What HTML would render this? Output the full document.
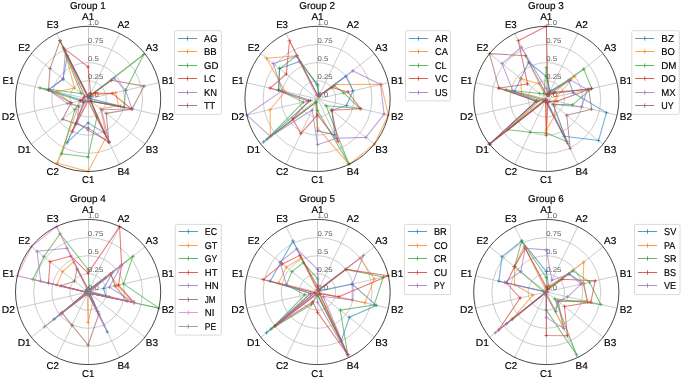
<!DOCTYPE html><html><head><meta charset="utf-8"><style>html,body{margin:0;padding:0;background:#fff}svg{display:block;will-change:transform}text.k{stroke:#000;stroke-width:0.16;paint-order:stroke}</style></head><body>
<svg width="685" height="380" viewBox="0 0 685 380" font-family="Liberation Sans, sans-serif" text-rendering="geometricPrecision">
<rect width="685" height="380" fill="#fff"/>
<g>
<circle cx="88.1" cy="98.9" r="18.15" stroke="#b0b0b0" stroke-width="0.65" fill="none"/>
<circle cx="88.1" cy="98.9" r="36.3" stroke="#b0b0b0" stroke-width="0.65" fill="none"/>
<circle cx="88.1" cy="98.9" r="54.45" stroke="#b0b0b0" stroke-width="0.65" fill="none"/>
<path d="M88.5 98.9L88.5 26.3M88.1 98.9L119.6 33.49M88.1 98.9L144.86 53.63M88.1 98.9L158.88 82.74M88.1 98.9L158.88 115.06M88.1 98.9L144.86 144.17M88.1 98.9L119.6 164.31M88.5 98.9L88.5 171.5M88.1 98.9L56.6 164.31M88.1 98.9L31.34 144.17M88.1 98.9L17.32 115.06M88.1 98.9L17.32 82.74M88.1 98.9L31.34 53.63M88.1 98.9L56.6 33.49" stroke="#b0b0b0" stroke-width="0.65" fill="none"/>
<text x="88.1" y="97.2" font-size="7.1" fill="#5e5e5e" textLength="10.81" lengthAdjust="spacingAndGlyphs">0.0</text>
<text x="88.1" y="79.05" font-size="7.1" fill="#5e5e5e" textLength="15.14" lengthAdjust="spacingAndGlyphs">0.25</text>
<text x="88.1" y="60.9" font-size="7.1" fill="#5e5e5e" textLength="10.81" lengthAdjust="spacingAndGlyphs">0.5</text>
<text x="88.1" y="42.75" font-size="7.1" fill="#5e5e5e" textLength="15.14" lengthAdjust="spacingAndGlyphs">0.75</text>
<text x="88.1" y="24.6" font-size="7.1" fill="#5e5e5e" textLength="10.81" lengthAdjust="spacingAndGlyphs">1.0</text>
<path d="M88.1 96.72L89.04 96.94L90.94 96.64L90.22 98.42L120.66 106.33L90.94 101.16L104.48 132.91L88.1 122.86L67 142.72L85.26 101.16L82.44 100.19L48.46 89.85L63.13 78.98L67.31 55.73Z" stroke="#1f77b4" stroke-width="1.05" fill="none" stroke-linejoin="round" opacity="0.62"/>
<path d="M86.2 96.72h3.8M88.1 94.82v3.8M87.14 96.94h3.8M89.04 95.04v3.8M89.04 96.64h3.8M90.94 94.74v3.8M88.32 98.42h3.8M90.22 96.52v3.8M118.76 106.33h3.8M120.66 104.43v3.8M89.04 101.16h3.8M90.94 99.26v3.8M102.58 132.91h3.8M104.48 131.01v3.8M86.2 122.86h3.8M88.1 120.96v3.8M65.1 142.72h3.8M67 140.82v3.8M83.36 101.16h3.8M85.26 99.26v3.8M80.54 100.19h3.8M82.44 98.29v3.8M46.56 89.85h3.8M48.46 87.95v3.8M61.23 78.98h3.8M63.13 77.08v3.8M65.41 55.73h3.8M67.31 53.83v3.8" stroke="#1f77b4" stroke-width="1.0" fill="none" opacity="0.62"/>
<path d="M88.1 96L89.67 95.63L92.64 95.28L115.7 92.6L118.54 105.85L100.59 108.86L106.37 136.84L88.1 171.5L57.23 163L78.45 106.6L70.41 102.94L56.96 91.79L74.48 88.04L64.16 49.19Z" stroke="#ff7f0e" stroke-width="1.05" fill="none" stroke-linejoin="round" opacity="0.62"/>
<path d="M86.2 96h3.8M88.1 94.1v3.8M87.77 95.63h3.8M89.67 93.73v3.8M90.74 95.28h3.8M92.64 93.38v3.8M113.8 92.6h3.8M115.7 90.7v3.8M116.64 105.85h3.8M118.54 103.95v3.8M98.69 108.86h3.8M100.59 106.96v3.8M104.47 136.84h3.8M106.37 134.94v3.8M86.2 171.5h3.8M88.1 169.6v3.8M55.33 163h3.8M57.23 161.1v3.8M76.55 106.6h3.8M78.45 104.7v3.8M68.51 102.94h3.8M70.41 101.04v3.8M55.06 91.79h3.8M56.96 89.89v3.8M72.58 88.04h3.8M74.48 86.14v3.8M62.26 49.19h3.8M64.16 47.29v3.8" stroke="#ff7f0e" stroke-width="1.0" fill="none" opacity="0.62"/>
<path d="M88.1 96.72L89.36 96.28L143.73 54.54L125.61 90.34L124.2 107.14L90.94 101.16L96.92 117.21L88.1 156.98L61.64 153.84L75.04 109.31L80.31 100.68L39.97 87.91L81.29 93.47L60.07 40.68Z" stroke="#2ca02c" stroke-width="1.05" fill="none" stroke-linejoin="round" opacity="0.62"/>
<path d="M86.2 96.72h3.8M88.1 94.82v3.8M87.46 96.28h3.8M89.36 94.38v3.8M141.83 54.54h3.8M143.73 52.64v3.8M123.71 90.34h3.8M125.61 88.44v3.8M122.3 107.14h3.8M124.2 105.24v3.8M89.04 101.16h3.8M90.94 99.26v3.8M95.02 117.21h3.8M96.92 115.31v3.8M86.2 156.98h3.8M88.1 155.08v3.8M59.74 153.84h3.8M61.64 151.94v3.8M73.14 109.31h3.8M75.04 107.41v3.8M78.41 100.68h3.8M80.31 98.78v3.8M38.07 87.91h3.8M39.97 86.01v3.8M79.39 93.47h3.8M81.29 91.57v3.8M58.17 40.68h3.8M60.07 38.78v3.8" stroke="#2ca02c" stroke-width="1.0" fill="none" opacity="0.62"/>
<path d="M88.1 66.96L90.62 93.67L95.48 93.02L112.17 93.41L131.28 108.75L90.94 101.16L108.89 142.07L88.1 101.08L72.35 131.61L83.56 102.52L80.31 100.68L83.85 97.93L84.69 96.18L63.53 47.88Z" stroke="#d62728" stroke-width="1.05" fill="none" stroke-linejoin="round" opacity="0.62"/>
<path d="M86.2 66.96h3.8M88.1 65.06v3.8M88.72 93.67h3.8M90.62 91.77v3.8M93.58 93.02h3.8M95.48 91.12v3.8M110.27 93.41h3.8M112.17 91.51v3.8M129.38 108.75h3.8M131.28 106.85v3.8M89.04 101.16h3.8M90.94 99.26v3.8M106.99 142.07h3.8M108.89 140.17v3.8M86.2 101.08h3.8M88.1 99.18v3.8M70.45 131.61h3.8M72.35 129.71v3.8M81.66 102.52h3.8M83.56 100.62v3.8M78.41 100.68h3.8M80.31 98.78v3.8M81.95 97.93h3.8M83.85 96.03v3.8M82.79 96.18h3.8M84.69 94.28v3.8M61.63 47.88h3.8M63.53 45.98v3.8" stroke="#d62728" stroke-width="1.0" fill="none" opacity="0.62"/>
<path d="M88.1 96.72L89.67 95.63L114.21 78.08L125.61 90.34L131.98 108.92L101.72 109.76L108.89 142.07L88.1 130.12L76.76 122.45L79.02 106.14L67.57 103.58L48.46 89.85L63.13 78.98L65.42 51.8Z" stroke="#9467bd" stroke-width="1.05" fill="none" stroke-linejoin="round" opacity="0.62"/>
<path d="M86.2 96.72h3.8M88.1 94.82v3.8M87.77 95.63h3.8M89.67 93.73v3.8M112.31 78.08h3.8M114.21 76.18v3.8M123.71 90.34h3.8M125.61 88.44v3.8M130.08 108.92h3.8M131.98 107.02v3.8M99.82 109.76h3.8M101.72 107.86v3.8M106.99 142.07h3.8M108.89 140.17v3.8M86.2 130.12h3.8M88.1 128.22v3.8M74.86 122.45h3.8M76.76 120.55v3.8M77.12 106.14h3.8M79.02 104.24v3.8M65.67 103.58h3.8M67.57 101.68v3.8M46.56 89.85h3.8M48.46 87.95v3.8M61.23 78.98h3.8M63.13 77.08v3.8M63.52 51.8h3.8M65.42 49.9v3.8" stroke="#9467bd" stroke-width="1.0" fill="none" opacity="0.62"/>
<path d="M88.1 96.72L89.67 95.63L111.37 80.34L144.02 86.14L131.98 108.92L106.26 113.38L108.89 142.07L88.1 127.94L76.13 123.76L62.56 119.27L71.11 102.78L48.46 89.85L50.07 68.57L60.07 40.68Z" stroke="#8c564b" stroke-width="1.05" fill="none" stroke-linejoin="round" opacity="0.62"/>
<path d="M86.2 96.72h3.8M88.1 94.82v3.8M87.77 95.63h3.8M89.67 93.73v3.8M109.47 80.34h3.8M111.37 78.44v3.8M142.12 86.14h3.8M144.02 84.24v3.8M130.08 108.92h3.8M131.98 107.02v3.8M104.36 113.38h3.8M106.26 111.48v3.8M106.99 142.07h3.8M108.89 140.17v3.8M86.2 127.94h3.8M88.1 126.04v3.8M74.23 123.76h3.8M76.13 121.86v3.8M60.66 119.27h3.8M62.56 117.37v3.8M69.21 102.78h3.8M71.11 100.88v3.8M46.56 89.85h3.8M48.46 87.95v3.8M48.17 68.57h3.8M50.07 66.67v3.8M58.17 40.68h3.8M60.07 38.78v3.8" stroke="#8c564b" stroke-width="1.0" fill="none" opacity="0.62"/>
<circle cx="88.1" cy="98.9" r="72.6" stroke="#1a1a1a" stroke-width="0.8" fill="none"/>
<text x="88.1" y="19.96" font-size="9.9" text-anchor="middle" fill="#000" class="k" textLength="12.28" lengthAdjust="spacingAndGlyphs">A1</text>
<text x="123.57" y="28.05" font-size="9.9" text-anchor="middle" fill="#000" class="k" textLength="12.28" lengthAdjust="spacingAndGlyphs">A2</text>
<text x="152.01" y="50.74" font-size="9.9" text-anchor="middle" fill="#000" class="k" textLength="12.28" lengthAdjust="spacingAndGlyphs">A3</text>
<text x="167.8" y="83.51" font-size="9.9" text-anchor="middle" fill="#000" class="k" textLength="12.3" lengthAdjust="spacingAndGlyphs">B1</text>
<text x="167.8" y="119.9" font-size="9.9" text-anchor="middle" fill="#000" class="k" textLength="12.3" lengthAdjust="spacingAndGlyphs">B2</text>
<text x="152.01" y="152.68" font-size="9.9" text-anchor="middle" fill="#000" class="k" textLength="12.3" lengthAdjust="spacingAndGlyphs">B3</text>
<text x="123.57" y="175.36" font-size="9.9" text-anchor="middle" fill="#000" class="k" textLength="12.3" lengthAdjust="spacingAndGlyphs">B4</text>
<text x="88.1" y="183.46" font-size="9.9" text-anchor="middle" fill="#000" class="k" textLength="12.41" lengthAdjust="spacingAndGlyphs">C1</text>
<text x="52.63" y="175.36" font-size="9.9" text-anchor="middle" fill="#000" class="k" textLength="12.41" lengthAdjust="spacingAndGlyphs">C2</text>
<text x="24.19" y="152.68" font-size="9.9" text-anchor="middle" fill="#000" class="k" textLength="13.08" lengthAdjust="spacingAndGlyphs">D1</text>
<text x="8.4" y="119.9" font-size="9.9" text-anchor="middle" fill="#000" class="k" textLength="13.08" lengthAdjust="spacingAndGlyphs">D2</text>
<text x="8.4" y="83.51" font-size="9.9" text-anchor="middle" fill="#000" class="k" textLength="11.79" lengthAdjust="spacingAndGlyphs">E1</text>
<text x="24.19" y="50.74" font-size="9.9" text-anchor="middle" fill="#000" class="k" textLength="11.79" lengthAdjust="spacingAndGlyphs">E2</text>
<text x="52.63" y="28.05" font-size="9.9" text-anchor="middle" fill="#000" class="k" textLength="11.79" lengthAdjust="spacingAndGlyphs">E3</text>
<text x="87.8" y="8.6" font-size="9.9" text-anchor="middle" fill="#000" class="k" textLength="35.79" lengthAdjust="spacingAndGlyphs">Group 1</text>
<rect x="174.5" y="30.7" width="46.9" height="83.7" rx="1.5" fill="#fff" fill-opacity="0.8" stroke="#d0d0d0" stroke-width="0.8"/>
<path d="M177.9 38.5h19.2M187.5 36.3v4.4" stroke="#1f77b4" stroke-width="1" fill="none" opacity="0.75"/>
<text x="204" y="41.61" font-size="9.9" fill="#000" class="k" textLength="13.41" lengthAdjust="spacingAndGlyphs">AG</text>
<path d="M177.9 51.5h19.2M187.5 49.3v4.4" stroke="#ff7f0e" stroke-width="1" fill="none" opacity="0.75"/>
<text x="204" y="55.11" font-size="9.9" fill="#000" class="k" textLength="12.76" lengthAdjust="spacingAndGlyphs">BB</text>
<path d="M177.9 65.5h19.2M187.5 63.3v4.4" stroke="#2ca02c" stroke-width="1" fill="none" opacity="0.75"/>
<text x="204" y="68.61" font-size="9.9" fill="#000" class="k" textLength="14.37" lengthAdjust="spacingAndGlyphs">GD</text>
<path d="M177.9 78.5h19.2M187.5 76.3v4.4" stroke="#d62728" stroke-width="1" fill="none" opacity="0.75"/>
<text x="204" y="82.11" font-size="9.9" fill="#000" class="k" textLength="11.67" lengthAdjust="spacingAndGlyphs">LC</text>
<path d="M177.9 92.5h19.2M187.5 90.3v4.4" stroke="#9467bd" stroke-width="1" fill="none" opacity="0.75"/>
<text x="204" y="95.61" font-size="9.9" fill="#000" class="k" textLength="13.06" lengthAdjust="spacingAndGlyphs">KN</text>
<path d="M177.9 105.5h19.2M187.5 103.3v4.4" stroke="#8c564b" stroke-width="1" fill="none" opacity="0.75"/>
<text x="204" y="109.11" font-size="9.9" fill="#000" class="k" textLength="11.2" lengthAdjust="spacingAndGlyphs">TT</text>
</g>
<g>
<circle cx="317.55" cy="98.9" r="18.15" stroke="#b0b0b0" stroke-width="0.65" fill="none"/>
<circle cx="317.55" cy="98.9" r="36.3" stroke="#b0b0b0" stroke-width="0.65" fill="none"/>
<circle cx="317.55" cy="98.9" r="54.45" stroke="#b0b0b0" stroke-width="0.65" fill="none"/>
<path d="M317.5 98.9L317.5 26.3M317.55 98.9L349.05 33.49M317.55 98.9L374.31 53.63M317.55 98.9L388.33 82.74M317.55 98.9L388.33 115.06M317.55 98.9L374.31 144.17M317.55 98.9L349.05 164.31M317.5 98.9L317.5 171.5M317.55 98.9L286.05 164.31M317.55 98.9L260.79 144.17M317.55 98.9L246.77 115.06M317.55 98.9L246.77 82.74M317.55 98.9L260.79 53.63M317.55 98.9L286.05 33.49" stroke="#b0b0b0" stroke-width="0.65" fill="none"/>
<text x="317.55" y="97.2" font-size="7.1" fill="#5e5e5e" textLength="10.81" lengthAdjust="spacingAndGlyphs">0.0</text>
<text x="317.55" y="79.05" font-size="7.1" fill="#5e5e5e" textLength="15.14" lengthAdjust="spacingAndGlyphs">0.25</text>
<text x="317.55" y="60.9" font-size="7.1" fill="#5e5e5e" textLength="10.81" lengthAdjust="spacingAndGlyphs">0.5</text>
<text x="317.55" y="42.75" font-size="7.1" fill="#5e5e5e" textLength="15.14" lengthAdjust="spacingAndGlyphs">0.75</text>
<text x="317.55" y="24.6" font-size="7.1" fill="#5e5e5e" textLength="10.81" lengthAdjust="spacingAndGlyphs">1.0</text>
<path d="M317.55 84.38L319.12 95.63L345.93 76.27L352.94 90.82L346.57 105.52L331.74 110.22L334.87 134.88L317.55 130.84L315.98 102.17L263.63 141.9L310.47 100.52L278.62 90.01L279.52 68.57L299.6 61.62Z" stroke="#1f77b4" stroke-width="1.05" fill="none" stroke-linejoin="round" opacity="0.62"/>
<path d="M315.65 84.38h3.8M317.55 82.48v3.8M317.22 95.63h3.8M319.12 93.73v3.8M344.03 76.27h3.8M345.93 74.37v3.8M351.04 90.82h3.8M352.94 88.92v3.8M344.67 105.52h3.8M346.57 103.62v3.8M329.84 110.22h3.8M331.74 108.32v3.8M332.97 134.88h3.8M334.87 132.98v3.8M315.65 130.84h3.8M317.55 128.94v3.8M314.08 102.17h3.8M315.98 100.27v3.8M261.73 141.9h3.8M263.63 140v3.8M308.57 100.52h3.8M310.47 98.62v3.8M276.72 90.01h3.8M278.62 88.11v3.8M277.62 68.57h3.8M279.52 66.67v3.8M297.7 61.62h3.8M299.6 59.72v3.8" stroke="#1f77b4" stroke-width="1.0" fill="none" opacity="0.62"/>
<path d="M317.55 95.27L319.12 95.63L335.71 84.42L381.25 84.36L388.33 115.06L374.31 144.17L349.05 164.31L317.55 127.94L315.98 102.17L270.44 136.47L270.13 109.72L284.99 91.47L266.47 58.16L296.76 55.73Z" stroke="#ff7f0e" stroke-width="1.05" fill="none" stroke-linejoin="round" opacity="0.62"/>
<path d="M315.65 95.27h3.8M317.55 93.37v3.8M317.22 95.63h3.8M319.12 93.73v3.8M333.81 84.42h3.8M335.71 82.52v3.8M379.35 84.36h3.8M381.25 82.46v3.8M386.43 115.06h3.8M388.33 113.16v3.8M372.41 144.17h3.8M374.31 142.27v3.8M347.15 164.31h3.8M349.05 162.41v3.8M315.65 127.94h3.8M317.55 126.04v3.8M314.08 102.17h3.8M315.98 100.27v3.8M268.54 136.47h3.8M270.44 134.57v3.8M268.23 109.72h3.8M270.13 107.82v3.8M283.09 91.47h3.8M284.99 89.57v3.8M264.57 58.16h3.8M266.47 56.26v3.8M294.86 55.73h3.8M296.76 53.83v3.8" stroke="#ff7f0e" stroke-width="1.0" fill="none" opacity="0.62"/>
<path d="M317.55 85.83L319.12 95.63L334.01 85.77L343.74 92.92L360.02 108.59L326.06 105.69L348.73 163.66L317.55 110.52L315.98 102.17L267.03 139.19L303.39 102.13L278.62 90.01L279.52 68.57L296.76 55.73Z" stroke="#2ca02c" stroke-width="1.05" fill="none" stroke-linejoin="round" opacity="0.62"/>
<path d="M315.65 85.83h3.8M317.55 83.93v3.8M317.22 95.63h3.8M319.12 93.73v3.8M332.11 85.77h3.8M334.01 83.87v3.8M341.84 92.92h3.8M343.74 91.02v3.8M358.12 108.59h3.8M360.02 106.69v3.8M324.16 105.69h3.8M326.06 103.79v3.8M346.83 163.66h3.8M348.73 161.76v3.8M315.65 110.52h3.8M317.55 108.62v3.8M314.08 102.17h3.8M315.98 100.27v3.8M265.13 139.19h3.8M267.03 137.29v3.8M301.49 102.13h3.8M303.39 100.23v3.8M276.72 90.01h3.8M278.62 88.11v3.8M277.62 68.57h3.8M279.52 66.67v3.8M294.86 55.73h3.8M296.76 53.83v3.8" stroke="#2ca02c" stroke-width="1.0" fill="none" opacity="0.62"/>
<path d="M317.55 95.27L319.12 95.63L331.74 87.58L347.99 91.95L360.73 108.75L331.74 110.22L338.02 141.42L317.55 114.87L300.86 133.57L292.58 118.82L308.35 101L270.13 88.08L286.33 74L289.52 40.68Z" stroke="#d62728" stroke-width="1.05" fill="none" stroke-linejoin="round" opacity="0.62"/>
<path d="M315.65 95.27h3.8M317.55 93.37v3.8M317.22 95.63h3.8M319.12 93.73v3.8M329.84 87.58h3.8M331.74 85.68v3.8M346.09 91.95h3.8M347.99 90.05v3.8M358.83 108.75h3.8M360.73 106.85v3.8M329.84 110.22h3.8M331.74 108.32v3.8M336.12 141.42h3.8M338.02 139.52v3.8M315.65 114.87h3.8M317.55 112.97v3.8M298.96 133.57h3.8M300.86 131.67v3.8M290.68 118.82h3.8M292.58 116.92v3.8M306.45 101h3.8M308.35 99.1v3.8M268.23 88.08h3.8M270.13 86.18v3.8M284.43 74h3.8M286.33 72.1v3.8M287.62 40.68h3.8M289.52 38.78v3.8" stroke="#d62728" stroke-width="1.0" fill="none" opacity="0.62"/>
<path d="M317.55 95.27L319.12 95.63L352.74 70.84L380.54 84.52L384.08 114.09L365.8 137.38L336.45 138.15L317.55 144.64L312.2 110.02L270.44 136.47L246.77 115.06L282.16 90.82L273.28 63.59L296.76 55.73Z" stroke="#9467bd" stroke-width="1.05" fill="none" stroke-linejoin="round" opacity="0.62"/>
<path d="M315.65 95.27h3.8M317.55 93.37v3.8M317.22 95.63h3.8M319.12 93.73v3.8M350.84 70.84h3.8M352.74 68.94v3.8M378.64 84.52h3.8M380.54 82.62v3.8M382.18 114.09h3.8M384.08 112.19v3.8M363.9 137.38h3.8M365.8 135.48v3.8M334.55 138.15h3.8M336.45 136.25v3.8M315.65 144.64h3.8M317.55 142.74v3.8M310.3 110.02h3.8M312.2 108.12v3.8M268.54 136.47h3.8M270.44 134.57v3.8M244.87 115.06h3.8M246.77 113.16v3.8M280.26 90.82h3.8M282.16 88.92v3.8M271.38 63.59h3.8M273.28 61.69v3.8M294.86 55.73h3.8M296.76 53.83v3.8" stroke="#9467bd" stroke-width="1.0" fill="none" opacity="0.62"/>
<circle cx="317.55" cy="98.9" r="72.6" stroke="#1a1a1a" stroke-width="0.8" fill="none"/>
<text x="317.55" y="19.96" font-size="9.9" text-anchor="middle" fill="#000" class="k" textLength="12.28" lengthAdjust="spacingAndGlyphs">A1</text>
<text x="353.02" y="28.05" font-size="9.9" text-anchor="middle" fill="#000" class="k" textLength="12.28" lengthAdjust="spacingAndGlyphs">A2</text>
<text x="381.46" y="50.74" font-size="9.9" text-anchor="middle" fill="#000" class="k" textLength="12.28" lengthAdjust="spacingAndGlyphs">A3</text>
<text x="397.25" y="83.51" font-size="9.9" text-anchor="middle" fill="#000" class="k" textLength="12.3" lengthAdjust="spacingAndGlyphs">B1</text>
<text x="397.25" y="119.9" font-size="9.9" text-anchor="middle" fill="#000" class="k" textLength="12.3" lengthAdjust="spacingAndGlyphs">B2</text>
<text x="381.46" y="152.68" font-size="9.9" text-anchor="middle" fill="#000" class="k" textLength="12.3" lengthAdjust="spacingAndGlyphs">B3</text>
<text x="353.02" y="175.36" font-size="9.9" text-anchor="middle" fill="#000" class="k" textLength="12.3" lengthAdjust="spacingAndGlyphs">B4</text>
<text x="317.55" y="183.46" font-size="9.9" text-anchor="middle" fill="#000" class="k" textLength="12.41" lengthAdjust="spacingAndGlyphs">C1</text>
<text x="282.08" y="175.36" font-size="9.9" text-anchor="middle" fill="#000" class="k" textLength="12.41" lengthAdjust="spacingAndGlyphs">C2</text>
<text x="253.64" y="152.68" font-size="9.9" text-anchor="middle" fill="#000" class="k" textLength="13.08" lengthAdjust="spacingAndGlyphs">D1</text>
<text x="237.85" y="119.9" font-size="9.9" text-anchor="middle" fill="#000" class="k" textLength="13.08" lengthAdjust="spacingAndGlyphs">D2</text>
<text x="237.85" y="83.51" font-size="9.9" text-anchor="middle" fill="#000" class="k" textLength="11.79" lengthAdjust="spacingAndGlyphs">E1</text>
<text x="253.64" y="50.74" font-size="9.9" text-anchor="middle" fill="#000" class="k" textLength="11.79" lengthAdjust="spacingAndGlyphs">E2</text>
<text x="282.08" y="28.05" font-size="9.9" text-anchor="middle" fill="#000" class="k" textLength="11.79" lengthAdjust="spacingAndGlyphs">E3</text>
<text x="317.25" y="8.6" font-size="9.9" text-anchor="middle" fill="#000" class="k" textLength="35.79" lengthAdjust="spacingAndGlyphs">Group 2</text>
<rect x="405.5" y="30.7" width="44.8" height="70.2" rx="1.5" fill="#fff" fill-opacity="0.8" stroke="#d0d0d0" stroke-width="0.8"/>
<path d="M408.9 38.5h19.2M418.5 36.3v4.4" stroke="#1f77b4" stroke-width="1" fill="none" opacity="0.75"/>
<text x="435" y="41.61" font-size="9.9" fill="#000" class="k" textLength="12.82" lengthAdjust="spacingAndGlyphs">AR</text>
<path d="M408.9 51.5h19.2M418.5 49.3v4.4" stroke="#ff7f0e" stroke-width="1" fill="none" opacity="0.75"/>
<text x="435" y="55.11" font-size="9.9" fill="#000" class="k" textLength="12.86" lengthAdjust="spacingAndGlyphs">CA</text>
<path d="M408.9 65.5h19.2M418.5 63.3v4.4" stroke="#2ca02c" stroke-width="1" fill="none" opacity="0.75"/>
<text x="435" y="68.61" font-size="9.9" fill="#000" class="k" textLength="11.67" lengthAdjust="spacingAndGlyphs">CL</text>
<path d="M408.9 78.5h19.2M418.5 76.3v4.4" stroke="#d62728" stroke-width="1" fill="none" opacity="0.75"/>
<text x="435" y="82.11" font-size="9.9" fill="#000" class="k" textLength="12.86" lengthAdjust="spacingAndGlyphs">VC</text>
<path d="M408.9 92.5h19.2M418.5 90.3v4.4" stroke="#9467bd" stroke-width="1" fill="none" opacity="0.75"/>
<text x="435" y="95.61" font-size="9.9" fill="#000" class="k" textLength="12.71" lengthAdjust="spacingAndGlyphs">US</text>
</g>
<g>
<circle cx="546.3" cy="98.9" r="18.15" stroke="#b0b0b0" stroke-width="0.65" fill="none"/>
<circle cx="546.3" cy="98.9" r="36.3" stroke="#b0b0b0" stroke-width="0.65" fill="none"/>
<circle cx="546.3" cy="98.9" r="54.45" stroke="#b0b0b0" stroke-width="0.65" fill="none"/>
<path d="M546.5 98.9L546.5 26.3M546.3 98.9L577.8 33.49M546.3 98.9L603.06 53.63M546.3 98.9L617.08 82.74M546.3 98.9L617.08 115.06M546.3 98.9L603.06 144.17M546.3 98.9L577.8 164.31M546.5 98.9L546.5 171.5M546.3 98.9L514.8 164.31M546.3 98.9L489.54 144.17M546.3 98.9L475.52 115.06M546.3 98.9L475.52 82.74M546.3 98.9L489.54 53.63M546.3 98.9L514.8 33.49" stroke="#b0b0b0" stroke-width="0.65" fill="none"/>
<text x="546.3" y="97.2" font-size="7.1" fill="#5e5e5e" textLength="10.81" lengthAdjust="spacingAndGlyphs">0.0</text>
<text x="546.3" y="79.05" font-size="7.1" fill="#5e5e5e" textLength="15.14" lengthAdjust="spacingAndGlyphs">0.25</text>
<text x="546.3" y="60.9" font-size="7.1" fill="#5e5e5e" textLength="10.81" lengthAdjust="spacingAndGlyphs">0.5</text>
<text x="546.3" y="42.75" font-size="7.1" fill="#5e5e5e" textLength="15.14" lengthAdjust="spacingAndGlyphs">0.75</text>
<text x="546.3" y="24.6" font-size="7.1" fill="#5e5e5e" textLength="10.81" lengthAdjust="spacingAndGlyphs">1.0</text>
<path d="M546.3 76.39L550.08 91.05L569 80.79L573.2 92.76L606.46 112.63L598.52 140.54L564.25 136.18L546.3 101.08L545.67 100.21L543.46 101.16L542.76 99.71L514.45 91.63L520.76 78.53L528.66 62.27Z" stroke="#1f77b4" stroke-width="1.05" fill="none" stroke-linejoin="round" opacity="0.62"/>
<path d="M544.4 76.39h3.8M546.3 74.49v3.8M548.18 91.05h3.8M550.08 89.15v3.8M567.1 80.79h3.8M569 78.89v3.8M571.3 92.76h3.8M573.2 90.86v3.8M604.56 112.63h3.8M606.46 110.73v3.8M596.62 140.54h3.8M598.52 138.64v3.8M562.35 136.18h3.8M564.25 134.28v3.8M544.4 101.08h3.8M546.3 99.18v3.8M543.77 100.21h3.8M545.67 98.31v3.8M541.56 101.16h3.8M543.46 99.26v3.8M540.86 99.71h3.8M542.76 97.81v3.8M512.55 91.63h3.8M514.45 89.73v3.8M518.86 78.53h3.8M520.76 76.63v3.8M526.76 62.27h3.8M528.66 60.37v3.8" stroke="#1f77b4" stroke-width="1.0" fill="none" opacity="0.62"/>
<path d="M546.3 94.54L548.19 94.98L574.68 76.27L556.92 96.48L554.79 100.84L554.81 105.69L554.49 115.91L546.3 130.12L545.67 100.21L489.54 144.17L544.18 99.38L521.53 93.25L520.76 78.53L539.06 83.86Z" stroke="#ff7f0e" stroke-width="1.05" fill="none" stroke-linejoin="round" opacity="0.62"/>
<path d="M544.4 94.54h3.8M546.3 92.64v3.8M546.29 94.98h3.8M548.19 93.08v3.8M572.78 76.27h3.8M574.68 74.37v3.8M555.02 96.48h3.8M556.92 94.58v3.8M552.89 100.84h3.8M554.79 98.94v3.8M552.91 105.69h3.8M554.81 103.79v3.8M552.59 115.91h3.8M554.49 114.01v3.8M544.4 130.12h3.8M546.3 128.22v3.8M543.77 100.21h3.8M545.67 98.31v3.8M487.64 144.17h3.8M489.54 142.27v3.8M542.28 99.38h3.8M544.18 97.48v3.8M519.63 93.25h3.8M521.53 91.35v3.8M518.86 78.53h3.8M520.76 76.63v3.8M537.16 83.86h3.8M539.06 81.96v3.8" stroke="#ff7f0e" stroke-width="1.0" fill="none" opacity="0.62"/>
<path d="M546.3 67.68L549.45 92.36L583.76 69.02L591.6 88.56L572.49 104.88L553.11 104.33L566.77 141.42L546.3 133.02L530.24 132.26L507.7 129.68L539.22 100.52L505.96 89.69L539.49 93.47L543.78 93.67Z" stroke="#2ca02c" stroke-width="1.05" fill="none" stroke-linejoin="round" opacity="0.62"/>
<path d="M544.4 67.68h3.8M546.3 65.78v3.8M547.55 92.36h3.8M549.45 90.46v3.8M581.86 69.02h3.8M583.76 67.12v3.8M589.7 88.56h3.8M591.6 86.66v3.8M570.59 104.88h3.8M572.49 102.98v3.8M551.21 104.33h3.8M553.11 102.43v3.8M564.87 141.42h3.8M566.77 139.52v3.8M544.4 133.02h3.8M546.3 131.12v3.8M528.34 132.26h3.8M530.24 130.36v3.8M505.8 129.68h3.8M507.7 127.78v3.8M537.32 100.52h3.8M539.22 98.62v3.8M504.06 89.69h3.8M505.96 87.79v3.8M537.59 93.47h3.8M539.49 91.57v3.8M541.88 93.67h3.8M543.78 91.77v3.8" stroke="#2ca02c" stroke-width="1.0" fill="none" opacity="0.62"/>
<path d="M546.3 26.3L548.19 94.98L553.11 93.47L591.6 88.56L556.92 101.32L549.71 101.62L547.87 102.17L546.3 135.2L545.67 100.21L489.54 144.17L536.39 101.16L498.88 88.08L527.57 83.96L518.27 40.68Z" stroke="#d62728" stroke-width="1.05" fill="none" stroke-linejoin="round" opacity="0.62"/>
<path d="M544.4 26.3h3.8M546.3 24.4v3.8M546.29 94.98h3.8M548.19 93.08v3.8M551.21 93.47h3.8M553.11 91.57v3.8M589.7 88.56h3.8M591.6 86.66v3.8M555.02 101.32h3.8M556.92 99.42v3.8M547.81 101.62h3.8M549.71 99.72v3.8M545.97 102.17h3.8M547.87 100.27v3.8M544.4 135.2h3.8M546.3 133.3v3.8M543.77 100.21h3.8M545.67 98.31v3.8M487.64 144.17h3.8M489.54 142.27v3.8M534.49 101.16h3.8M536.39 99.26v3.8M496.98 88.08h3.8M498.88 86.18v3.8M525.67 83.96h3.8M527.57 82.06v3.8M516.37 40.68h3.8M518.27 38.78v3.8" stroke="#d62728" stroke-width="1.0" fill="none" opacity="0.62"/>
<path d="M546.3 88.74L548.82 93.67L570.14 79.89L587.35 89.53L581.69 106.98L553.11 104.33L567.72 143.38L546.3 101.08L545.67 100.21L489.54 144.17L536.39 101.16L513.03 91.31L502.03 63.59L521.42 47.23Z" stroke="#9467bd" stroke-width="1.05" fill="none" stroke-linejoin="round" opacity="0.62"/>
<path d="M544.4 88.74h3.8M546.3 86.84v3.8M546.92 93.67h3.8M548.82 91.77v3.8M568.24 79.89h3.8M570.14 77.99v3.8M585.45 89.53h3.8M587.35 87.63v3.8M579.79 106.98h3.8M581.69 105.08v3.8M551.21 104.33h3.8M553.11 102.43v3.8M565.82 143.38h3.8M567.72 141.48v3.8M544.4 101.08h3.8M546.3 99.18v3.8M543.77 100.21h3.8M545.67 98.31v3.8M487.64 144.17h3.8M489.54 142.27v3.8M534.49 101.16h3.8M536.39 99.26v3.8M511.13 91.31h3.8M513.03 89.41v3.8M500.13 63.59h3.8M502.03 61.69v3.8M519.52 47.23h3.8M521.42 45.33v3.8" stroke="#9467bd" stroke-width="1.0" fill="none" opacity="0.62"/>
<path d="M546.3 94.54L548.82 93.67L554.81 92.11L588.77 89.21L591.6 109.24L566.73 115.2L570.24 148.61L546.3 102.53L545.67 100.21L489.54 144.17L536.39 101.16L498.88 88.08L489.54 53.63L525.51 55.73Z" stroke="#8c564b" stroke-width="1.05" fill="none" stroke-linejoin="round" opacity="0.62"/>
<path d="M544.4 94.54h3.8M546.3 92.64v3.8M546.92 93.67h3.8M548.82 91.77v3.8M552.91 92.11h3.8M554.81 90.21v3.8M586.87 89.21h3.8M588.77 87.31v3.8M589.7 109.24h3.8M591.6 107.34v3.8M564.83 115.2h3.8M566.73 113.3v3.8M568.34 148.61h3.8M570.24 146.71v3.8M544.4 102.53h3.8M546.3 100.63v3.8M543.77 100.21h3.8M545.67 98.31v3.8M487.64 144.17h3.8M489.54 142.27v3.8M534.49 101.16h3.8M536.39 99.26v3.8M496.98 88.08h3.8M498.88 86.18v3.8M487.64 53.63h3.8M489.54 51.73v3.8M523.61 55.73h3.8M525.51 53.83v3.8" stroke="#8c564b" stroke-width="1.0" fill="none" opacity="0.62"/>
<circle cx="546.3" cy="98.9" r="72.6" stroke="#1a1a1a" stroke-width="0.8" fill="none"/>
<text x="546.3" y="19.96" font-size="9.9" text-anchor="middle" fill="#000" class="k" textLength="12.28" lengthAdjust="spacingAndGlyphs">A1</text>
<text x="581.77" y="28.05" font-size="9.9" text-anchor="middle" fill="#000" class="k" textLength="12.28" lengthAdjust="spacingAndGlyphs">A2</text>
<text x="610.21" y="50.74" font-size="9.9" text-anchor="middle" fill="#000" class="k" textLength="12.28" lengthAdjust="spacingAndGlyphs">A3</text>
<text x="626" y="83.51" font-size="9.9" text-anchor="middle" fill="#000" class="k" textLength="12.3" lengthAdjust="spacingAndGlyphs">B1</text>
<text x="626" y="119.9" font-size="9.9" text-anchor="middle" fill="#000" class="k" textLength="12.3" lengthAdjust="spacingAndGlyphs">B2</text>
<text x="610.21" y="152.68" font-size="9.9" text-anchor="middle" fill="#000" class="k" textLength="12.3" lengthAdjust="spacingAndGlyphs">B3</text>
<text x="581.77" y="175.36" font-size="9.9" text-anchor="middle" fill="#000" class="k" textLength="12.3" lengthAdjust="spacingAndGlyphs">B4</text>
<text x="546.3" y="183.46" font-size="9.9" text-anchor="middle" fill="#000" class="k" textLength="12.41" lengthAdjust="spacingAndGlyphs">C1</text>
<text x="510.83" y="175.36" font-size="9.9" text-anchor="middle" fill="#000" class="k" textLength="12.41" lengthAdjust="spacingAndGlyphs">C2</text>
<text x="482.39" y="152.68" font-size="9.9" text-anchor="middle" fill="#000" class="k" textLength="13.08" lengthAdjust="spacingAndGlyphs">D1</text>
<text x="466.6" y="119.9" font-size="9.9" text-anchor="middle" fill="#000" class="k" textLength="13.08" lengthAdjust="spacingAndGlyphs">D2</text>
<text x="466.6" y="83.51" font-size="9.9" text-anchor="middle" fill="#000" class="k" textLength="11.79" lengthAdjust="spacingAndGlyphs">E1</text>
<text x="482.39" y="50.74" font-size="9.9" text-anchor="middle" fill="#000" class="k" textLength="11.79" lengthAdjust="spacingAndGlyphs">E2</text>
<text x="510.83" y="28.05" font-size="9.9" text-anchor="middle" fill="#000" class="k" textLength="11.79" lengthAdjust="spacingAndGlyphs">E3</text>
<text x="546" y="8.6" font-size="9.9" text-anchor="middle" fill="#000" class="k" textLength="35.79" lengthAdjust="spacingAndGlyphs">Group 3</text>
<rect x="631.8" y="30.7" width="47.5" height="83.7" rx="1.5" fill="#fff" fill-opacity="0.8" stroke="#d0d0d0" stroke-width="0.8"/>
<path d="M635.2 38.5h19.2M644.8 36.3v4.4" stroke="#1f77b4" stroke-width="1" fill="none" opacity="0.75"/>
<text x="661.3" y="41.61" font-size="9.9" fill="#000" class="k" textLength="12.75" lengthAdjust="spacingAndGlyphs">BZ</text>
<path d="M635.2 51.5h19.2M644.8 49.3v4.4" stroke="#ff7f0e" stroke-width="1" fill="none" opacity="0.75"/>
<text x="661.3" y="55.11" font-size="9.9" fill="#000" class="k" textLength="13.54" lengthAdjust="spacingAndGlyphs">BO</text>
<path d="M635.2 65.5h19.2M644.8 63.3v4.4" stroke="#2ca02c" stroke-width="1" fill="none" opacity="0.75"/>
<text x="661.3" y="68.61" font-size="9.9" fill="#000" class="k" textLength="15.19" lengthAdjust="spacingAndGlyphs">DM</text>
<path d="M635.2 78.5h19.2M644.8 76.3v4.4" stroke="#d62728" stroke-width="1" fill="none" opacity="0.75"/>
<text x="661.3" y="82.11" font-size="9.9" fill="#000" class="k" textLength="14.48" lengthAdjust="spacingAndGlyphs">DO</text>
<path d="M635.2 92.5h19.2M644.8 90.3v4.4" stroke="#9467bd" stroke-width="1" fill="none" opacity="0.75"/>
<text x="661.3" y="95.61" font-size="9.9" fill="#000" class="k" textLength="14.4" lengthAdjust="spacingAndGlyphs">MX</text>
<path d="M635.2 105.5h19.2M644.8 103.3v4.4" stroke="#8c564b" stroke-width="1" fill="none" opacity="0.75"/>
<text x="661.3" y="109.11" font-size="9.9" fill="#000" class="k" textLength="12.49" lengthAdjust="spacingAndGlyphs">UY</text>
</g>
<g>
<circle cx="88.1" cy="292" r="18.15" stroke="#b0b0b0" stroke-width="0.65" fill="none"/>
<circle cx="88.1" cy="292" r="36.3" stroke="#b0b0b0" stroke-width="0.65" fill="none"/>
<circle cx="88.1" cy="292" r="54.45" stroke="#b0b0b0" stroke-width="0.65" fill="none"/>
<path d="M88.5 292L88.5 219.4M88.1 292L119.6 226.59M88.1 292L144.86 246.73M88.1 292L158.88 275.84M88.1 292L158.88 308.16M88.1 292L144.86 337.27M88.1 292L119.6 357.41M88.5 292L88.5 364.6M88.1 292L56.6 357.41M88.1 292L31.34 337.27M88.1 292L17.32 308.16M88.1 292L17.32 275.84M88.1 292L31.34 246.73M88.1 292L56.6 226.59" stroke="#b0b0b0" stroke-width="0.65" fill="none"/>
<text x="88.1" y="290.3" font-size="7.1" fill="#5e5e5e" textLength="10.81" lengthAdjust="spacingAndGlyphs">0.0</text>
<text x="88.1" y="272.15" font-size="7.1" fill="#5e5e5e" textLength="15.14" lengthAdjust="spacingAndGlyphs">0.25</text>
<text x="88.1" y="254" font-size="7.1" fill="#5e5e5e" textLength="10.81" lengthAdjust="spacingAndGlyphs">0.5</text>
<text x="88.1" y="235.85" font-size="7.1" fill="#5e5e5e" textLength="15.14" lengthAdjust="spacingAndGlyphs">0.75</text>
<text x="88.1" y="217.7" font-size="7.1" fill="#5e5e5e" textLength="10.81" lengthAdjust="spacingAndGlyphs">1.0</text>
<path d="M88.1 289.1L88.73 290.69L112.51 272.54L103.67 288.45L105.79 296.04L89.8 293.36L107.31 331.9L88.1 294.18L87.47 293.31L54.04 319.16L86.68 292.32L85.98 291.52L86.4 290.64L86.84 289.38Z" stroke="#1f77b4" stroke-width="1.05" fill="none" stroke-linejoin="round" opacity="0.62"/>
<path d="M86.2 289.1h3.8M88.1 287.2v3.8M86.83 290.69h3.8M88.73 288.79v3.8M110.61 272.54h3.8M112.51 270.64v3.8M101.77 288.45h3.8M103.67 286.55v3.8M103.89 296.04h3.8M105.79 294.14v3.8M87.9 293.36h3.8M89.8 291.46v3.8M105.41 331.9h3.8M107.31 330v3.8M86.2 294.18h3.8M88.1 292.28v3.8M85.57 293.31h3.8M87.47 291.41v3.8M52.14 319.16h3.8M54.04 317.26v3.8M84.78 292.32h3.8M86.68 290.42v3.8M84.08 291.52h3.8M85.98 289.62v3.8M84.5 290.64h3.8M86.4 288.74v3.8M84.94 289.38h3.8M86.84 287.48v3.8" stroke="#1f77b4" stroke-width="1.0" fill="none" opacity="0.62"/>
<path d="M88.1 289.82L88.73 290.69L110.24 274.35L117.12 285.38L133.4 302.34L89.8 293.36L92.82 301.81L88.1 322.49L87.16 293.96L61.99 312.82L85.98 292.48L56.96 284.89L62.56 271.63L73.61 261.91Z" stroke="#ff7f0e" stroke-width="1.05" fill="none" stroke-linejoin="round" opacity="0.62"/>
<path d="M86.2 289.82h3.8M88.1 287.92v3.8M86.83 290.69h3.8M88.73 288.79v3.8M108.34 274.35h3.8M110.24 272.45v3.8M115.22 285.38h3.8M117.12 283.48v3.8M131.5 302.34h3.8M133.4 300.44v3.8M87.9 293.36h3.8M89.8 291.46v3.8M90.92 301.81h3.8M92.82 299.91v3.8M86.2 322.49h3.8M88.1 320.59v3.8M85.26 293.96h3.8M87.16 292.06v3.8M60.09 312.82h3.8M61.99 310.92v3.8M84.08 292.48h3.8M85.98 290.58v3.8M55.06 284.89h3.8M56.96 282.99v3.8M60.66 271.63h3.8M62.56 269.73v3.8M71.71 261.91h3.8M73.61 260.01v3.8" stroke="#ff7f0e" stroke-width="1.0" fill="none" opacity="0.62"/>
<path d="M88.1 269.49L89.36 289.38L132.94 256.24L123.49 283.92L158.88 308.16L89.8 293.36L89.04 293.96L88.1 294.18L87.47 293.31L86.4 293.36L86.68 292.32L32.89 279.4L43.83 256.69L60.07 233.78Z" stroke="#2ca02c" stroke-width="1.05" fill="none" stroke-linejoin="round" opacity="0.62"/>
<path d="M86.2 269.49h3.8M88.1 267.59v3.8M87.46 289.38h3.8M89.36 287.48v3.8M131.04 256.24h3.8M132.94 254.34v3.8M121.59 283.92h3.8M123.49 282.02v3.8M156.98 308.16h3.8M158.88 306.26v3.8M87.9 293.36h3.8M89.8 291.46v3.8M87.14 293.96h3.8M89.04 292.06v3.8M86.2 294.18h3.8M88.1 292.28v3.8M85.57 293.31h3.8M87.47 291.41v3.8M84.5 293.36h3.8M86.4 291.46v3.8M84.78 292.32h3.8M86.68 290.42v3.8M30.99 279.4h3.8M32.89 277.5v3.8M41.93 256.69h3.8M43.83 254.79v3.8M58.17 233.78h3.8M60.07 231.88v3.8" stroke="#2ca02c" stroke-width="1.0" fill="none" opacity="0.62"/>
<path d="M88.1 273.12L119.6 226.59L121.59 265.29L118.54 285.05L134.11 302.5L89.8 293.36L89.04 293.96L88.1 294.18L87.47 293.31L86.4 293.36L86.68 292.32L48.46 282.95L50.07 261.67L70.78 256.02Z" stroke="#d62728" stroke-width="1.05" fill="none" stroke-linejoin="round" opacity="0.62"/>
<path d="M86.2 273.12h3.8M88.1 271.22v3.8M117.7 226.59h3.8M119.6 224.69v3.8M119.69 265.29h3.8M121.59 263.39v3.8M116.64 285.05h3.8M118.54 283.15v3.8M132.21 302.5h3.8M134.11 300.6v3.8M87.9 293.36h3.8M89.8 291.46v3.8M87.14 293.96h3.8M89.04 292.06v3.8M86.2 294.18h3.8M88.1 292.28v3.8M85.57 293.31h3.8M87.47 291.41v3.8M84.5 293.36h3.8M86.4 291.46v3.8M84.78 292.32h3.8M86.68 290.42v3.8M46.56 282.95h3.8M48.46 281.05v3.8M48.17 261.67h3.8M50.07 259.77v3.8M68.88 256.02h3.8M70.78 254.12v3.8" stroke="#d62728" stroke-width="1.0" fill="none" opacity="0.62"/>
<path d="M88.1 289.82L89.04 290.04L121.02 265.75L109.33 287.15L134.11 302.5L89.8 293.36L97.55 311.62L88.1 294.18L87.47 293.31L60.85 313.73L86.68 292.32L40.68 281.18L37.02 251.26L67 248.18Z" stroke="#9467bd" stroke-width="1.05" fill="none" stroke-linejoin="round" opacity="0.62"/>
<path d="M86.2 289.82h3.8M88.1 287.92v3.8M87.14 290.04h3.8M89.04 288.14v3.8M119.12 265.75h3.8M121.02 263.85v3.8M107.43 287.15h3.8M109.33 285.25v3.8M132.21 302.5h3.8M134.11 300.6v3.8M87.9 293.36h3.8M89.8 291.46v3.8M95.65 311.62h3.8M97.55 309.72v3.8M86.2 294.18h3.8M88.1 292.28v3.8M85.57 293.31h3.8M87.47 291.41v3.8M58.95 313.73h3.8M60.85 311.83v3.8M84.78 292.32h3.8M86.68 290.42v3.8M38.78 281.18h3.8M40.68 279.28v3.8M35.12 251.26h3.8M37.02 249.36v3.8M65.1 248.18h3.8M67 246.28v3.8" stroke="#9467bd" stroke-width="1.0" fill="none" opacity="0.62"/>
<path d="M88.1 289.1L89.04 290.04L110.8 273.89L115 285.86L127.03 300.89L89.8 293.36L98.81 314.24L88.1 345L72.04 325.36L61.99 312.82L86.68 292.32L61.2 285.86L74.48 281.14L77.08 269.11Z" stroke="#8c564b" stroke-width="1.05" fill="none" stroke-linejoin="round" opacity="0.62"/>
<path d="M86.2 289.1h3.8M88.1 287.2v3.8M87.14 290.04h3.8M89.04 288.14v3.8M108.9 273.89h3.8M110.8 271.99v3.8M113.1 285.86h3.8M115 283.96v3.8M125.13 300.89h3.8M127.03 298.99v3.8M87.9 293.36h3.8M89.8 291.46v3.8M96.91 314.24h3.8M98.81 312.34v3.8M86.2 345h3.8M88.1 343.1v3.8M70.14 325.36h3.8M72.04 323.46v3.8M60.09 312.82h3.8M61.99 310.92v3.8M84.78 292.32h3.8M86.68 290.42v3.8M59.3 285.86h3.8M61.2 283.96v3.8M72.58 281.14h3.8M74.48 279.24v3.8M75.18 269.11h3.8M77.08 267.21v3.8" stroke="#8c564b" stroke-width="1.0" fill="none" opacity="0.62"/>
<path d="M88.1 289.82L88.73 290.69L121.02 265.75L90.22 291.52L134.11 302.5L89.24 292.91L104.16 325.36L88.1 294.18L87.47 293.31L59.72 314.63L86.68 292.32L17.32 275.84L31.34 246.73L56.6 226.59Z" stroke="#e377c2" stroke-width="1.05" fill="none" stroke-linejoin="round" opacity="0.62"/>
<path d="M86.2 289.82h3.8M88.1 287.92v3.8M86.83 290.69h3.8M88.73 288.79v3.8M119.12 265.75h3.8M121.02 263.85v3.8M88.32 291.52h3.8M90.22 289.62v3.8M132.21 302.5h3.8M134.11 300.6v3.8M87.34 292.91h3.8M89.24 291.01v3.8M102.26 325.36h3.8M104.16 323.46v3.8M86.2 294.18h3.8M88.1 292.28v3.8M85.57 293.31h3.8M87.47 291.41v3.8M57.82 314.63h3.8M59.72 312.73v3.8M84.78 292.32h3.8M86.68 290.42v3.8M15.42 275.84h3.8M17.32 273.94v3.8M29.44 246.73h3.8M31.34 244.83v3.8M54.7 226.59h3.8M56.6 224.69v3.8" stroke="#e377c2" stroke-width="1.0" fill="none" opacity="0.62"/>
<path d="M88.1 289.82L88.73 290.69L105.13 278.42L90.22 291.52L109.33 296.85L89.8 293.36L97.55 311.62L88.1 294.18L87.47 293.31L44.39 326.85L86.68 292.32L85.98 291.52L86.4 290.64L87.16 290.04Z" stroke="#7f7f7f" stroke-width="1.05" fill="none" stroke-linejoin="round" opacity="0.62"/>
<path d="M86.2 289.82h3.8M88.1 287.92v3.8M86.83 290.69h3.8M88.73 288.79v3.8M103.23 278.42h3.8M105.13 276.52v3.8M88.32 291.52h3.8M90.22 289.62v3.8M107.43 296.85h3.8M109.33 294.95v3.8M87.9 293.36h3.8M89.8 291.46v3.8M95.65 311.62h3.8M97.55 309.72v3.8M86.2 294.18h3.8M88.1 292.28v3.8M85.57 293.31h3.8M87.47 291.41v3.8M42.49 326.85h3.8M44.39 324.95v3.8M84.78 292.32h3.8M86.68 290.42v3.8M84.08 291.52h3.8M85.98 289.62v3.8M84.5 290.64h3.8M86.4 288.74v3.8M85.26 290.04h3.8M87.16 288.14v3.8" stroke="#7f7f7f" stroke-width="1.0" fill="none" opacity="0.62"/>
<circle cx="88.1" cy="292" r="72.6" stroke="#1a1a1a" stroke-width="0.8" fill="none"/>
<text x="88.1" y="213.46" font-size="9.9" text-anchor="middle" fill="#000" class="k" textLength="12.28" lengthAdjust="spacingAndGlyphs">A1</text>
<text x="123.57" y="221.55" font-size="9.9" text-anchor="middle" fill="#000" class="k" textLength="12.28" lengthAdjust="spacingAndGlyphs">A2</text>
<text x="152.01" y="244.24" font-size="9.9" text-anchor="middle" fill="#000" class="k" textLength="12.28" lengthAdjust="spacingAndGlyphs">A3</text>
<text x="167.8" y="277.01" font-size="9.9" text-anchor="middle" fill="#000" class="k" textLength="12.3" lengthAdjust="spacingAndGlyphs">B1</text>
<text x="167.8" y="313.4" font-size="9.9" text-anchor="middle" fill="#000" class="k" textLength="12.3" lengthAdjust="spacingAndGlyphs">B2</text>
<text x="152.01" y="346.18" font-size="9.9" text-anchor="middle" fill="#000" class="k" textLength="12.3" lengthAdjust="spacingAndGlyphs">B3</text>
<text x="123.57" y="368.86" font-size="9.9" text-anchor="middle" fill="#000" class="k" textLength="12.3" lengthAdjust="spacingAndGlyphs">B4</text>
<text x="88.1" y="376.96" font-size="9.9" text-anchor="middle" fill="#000" class="k" textLength="12.41" lengthAdjust="spacingAndGlyphs">C1</text>
<text x="52.63" y="368.86" font-size="9.9" text-anchor="middle" fill="#000" class="k" textLength="12.41" lengthAdjust="spacingAndGlyphs">C2</text>
<text x="24.19" y="346.18" font-size="9.9" text-anchor="middle" fill="#000" class="k" textLength="13.08" lengthAdjust="spacingAndGlyphs">D1</text>
<text x="8.4" y="313.4" font-size="9.9" text-anchor="middle" fill="#000" class="k" textLength="13.08" lengthAdjust="spacingAndGlyphs">D2</text>
<text x="8.4" y="277.01" font-size="9.9" text-anchor="middle" fill="#000" class="k" textLength="11.79" lengthAdjust="spacingAndGlyphs">E1</text>
<text x="24.19" y="244.24" font-size="9.9" text-anchor="middle" fill="#000" class="k" textLength="11.79" lengthAdjust="spacingAndGlyphs">E2</text>
<text x="52.63" y="221.55" font-size="9.9" text-anchor="middle" fill="#000" class="k" textLength="11.79" lengthAdjust="spacingAndGlyphs">E3</text>
<text x="87.8" y="201.7" font-size="9.9" text-anchor="middle" fill="#000" class="k" textLength="35.79" lengthAdjust="spacingAndGlyphs">Group 4</text>
<rect x="175.3" y="224.4" width="46" height="110.7" rx="1.5" fill="#fff" fill-opacity="0.8" stroke="#d0d0d0" stroke-width="0.8"/>
<path d="M178.7 231.5h19.2M188.3 229.3v4.4" stroke="#1f77b4" stroke-width="1" fill="none" opacity="0.75"/>
<text x="204.8" y="235.31" font-size="9.9" fill="#000" class="k" textLength="12.37" lengthAdjust="spacingAndGlyphs">EC</text>
<path d="M178.7 245.5h19.2M188.3 243.3v4.4" stroke="#ff7f0e" stroke-width="1" fill="none" opacity="0.75"/>
<text x="204.8" y="248.81" font-size="9.9" fill="#000" class="k" textLength="12.56" lengthAdjust="spacingAndGlyphs">GT</text>
<path d="M178.7 258.5h19.2M188.3 256.3v4.4" stroke="#2ca02c" stroke-width="1" fill="none" opacity="0.75"/>
<text x="204.8" y="262.31" font-size="9.9" fill="#000" class="k" textLength="12.42" lengthAdjust="spacingAndGlyphs">GY</text>
<path d="M178.7 272.5h19.2M188.3 270.3v4.4" stroke="#d62728" stroke-width="1" fill="none" opacity="0.75"/>
<text x="204.8" y="275.81" font-size="9.9" fill="#000" class="k" textLength="12.67" lengthAdjust="spacingAndGlyphs">HT</text>
<path d="M178.7 285.5h19.2M188.3 283.3v4.4" stroke="#9467bd" stroke-width="1" fill="none" opacity="0.75"/>
<text x="204.8" y="289.31" font-size="9.9" fill="#000" class="k" textLength="13.95" lengthAdjust="spacingAndGlyphs">HN</text>
<path d="M178.7 299.5h19.2M188.3 297.3v4.4" stroke="#8c564b" stroke-width="1" fill="none" opacity="0.75"/>
<text x="204.8" y="302.81" font-size="9.9" fill="#000" class="k" textLength="10.77" lengthAdjust="spacingAndGlyphs">JM</text>
<path d="M178.7 312.5h19.2M188.3 310.3v4.4" stroke="#e377c2" stroke-width="1" fill="none" opacity="0.75"/>
<text x="204.8" y="316.31" font-size="9.9" fill="#000" class="k" textLength="9.7" lengthAdjust="spacingAndGlyphs">NI</text>
<path d="M178.7 326.5h19.2M188.3 324.3v4.4" stroke="#7f7f7f" stroke-width="1" fill="none" opacity="0.75"/>
<text x="204.8" y="329.81" font-size="9.9" fill="#000" class="k" textLength="11.48" lengthAdjust="spacingAndGlyphs">PE</text>
</g>
<g>
<circle cx="317.55" cy="292" r="18.15" stroke="#b0b0b0" stroke-width="0.65" fill="none"/>
<circle cx="317.55" cy="292" r="36.3" stroke="#b0b0b0" stroke-width="0.65" fill="none"/>
<circle cx="317.55" cy="292" r="54.45" stroke="#b0b0b0" stroke-width="0.65" fill="none"/>
<path d="M317.5 292L317.5 219.4M317.55 292L349.05 226.59M317.55 292L374.31 246.73M317.55 292L388.33 275.84M317.55 292L388.33 308.16M317.55 292L374.31 337.27M317.55 292L349.05 357.41M317.5 292L317.5 364.6M317.55 292L286.05 357.41M317.55 292L260.79 337.27M317.55 292L246.77 308.16M317.55 292L246.77 275.84M317.55 292L260.79 246.73M317.55 292L286.05 226.59" stroke="#b0b0b0" stroke-width="0.65" fill="none"/>
<text x="317.55" y="290.3" font-size="7.1" fill="#5e5e5e" textLength="10.81" lengthAdjust="spacingAndGlyphs">0.0</text>
<text x="317.55" y="272.15" font-size="7.1" fill="#5e5e5e" textLength="15.14" lengthAdjust="spacingAndGlyphs">0.25</text>
<text x="317.55" y="254" font-size="7.1" fill="#5e5e5e" textLength="10.81" lengthAdjust="spacingAndGlyphs">0.5</text>
<text x="317.55" y="235.85" font-size="7.1" fill="#5e5e5e" textLength="15.14" lengthAdjust="spacingAndGlyphs">0.75</text>
<text x="317.55" y="217.7" font-size="7.1" fill="#5e5e5e" textLength="10.81" lengthAdjust="spacingAndGlyphs">1.0</text>
<path d="M317.55 289.82L318.18 290.69L319.25 290.64L352.23 284.08L376.3 305.41L349.34 317.35L341.17 341.06L317.55 294.9L316.61 293.96L266.47 332.74L310.47 293.62L270.13 281.18L280.66 262.58L292.98 240.98Z" stroke="#1f77b4" stroke-width="1.05" fill="none" stroke-linejoin="round" opacity="0.62"/>
<path d="M315.65 289.82h3.8M317.55 287.92v3.8M316.28 290.69h3.8M318.18 288.79v3.8M317.35 290.64h3.8M319.25 288.74v3.8M350.33 284.08h3.8M352.23 282.18v3.8M374.4 305.41h3.8M376.3 303.51v3.8M347.44 317.35h3.8M349.34 315.45v3.8M339.27 341.06h3.8M341.17 339.16v3.8M315.65 294.9h3.8M317.55 293v3.8M314.71 293.96h3.8M316.61 292.06v3.8M264.57 332.74h3.8M266.47 330.84v3.8M308.57 293.62h3.8M310.47 291.72v3.8M268.23 281.18h3.8M270.13 279.28v3.8M278.76 262.58h3.8M280.66 260.68v3.8M291.08 240.98h3.8M292.98 239.08v3.8" stroke="#1f77b4" stroke-width="1.0" fill="none" opacity="0.62"/>
<path d="M317.55 289.82L318.18 290.69L360.12 258.05L374.17 279.08L364.97 302.82L319.25 293.36L345.9 350.87L317.55 294.9L316.61 293.96L274.98 325.95L314.72 292.65L278.62 283.11L286.33 267.1L301.17 257.99Z" stroke="#ff7f0e" stroke-width="1.05" fill="none" stroke-linejoin="round" opacity="0.62"/>
<path d="M315.65 289.82h3.8M317.55 287.92v3.8M316.28 290.69h3.8M318.18 288.79v3.8M358.22 258.05h3.8M360.12 256.15v3.8M372.27 279.08h3.8M374.17 277.18v3.8M363.07 302.82h3.8M364.97 300.92v3.8M317.35 293.36h3.8M319.25 291.46v3.8M344 350.87h3.8M345.9 348.97v3.8M315.65 294.9h3.8M317.55 293v3.8M314.71 293.96h3.8M316.61 292.06v3.8M273.08 325.95h3.8M274.98 324.05v3.8M312.82 292.65h3.8M314.72 290.75v3.8M276.72 283.11h3.8M278.62 281.21v3.8M284.43 267.1h3.8M286.33 265.2v3.8M299.27 257.99h3.8M301.17 256.09v3.8" stroke="#ff7f0e" stroke-width="1.0" fill="none" opacity="0.62"/>
<path d="M317.55 278.93L318.49 290.04L345.93 269.37L383.38 276.98L374.17 304.92L340.25 310.11L347.79 354.79L317.55 294.9L311.57 304.43L271.01 329.12L304.81 294.91L286.41 284.89L292.01 271.63L303.38 262.57Z" stroke="#2ca02c" stroke-width="1.05" fill="none" stroke-linejoin="round" opacity="0.62"/>
<path d="M315.65 278.93h3.8M317.55 277.03v3.8M316.59 290.04h3.8M318.49 288.14v3.8M344.03 269.37h3.8M345.93 267.47v3.8M381.48 276.98h3.8M383.38 275.08v3.8M372.27 304.92h3.8M374.17 303.02v3.8M338.35 310.11h3.8M340.25 308.21v3.8M345.89 354.79h3.8M347.79 352.89v3.8M315.65 294.9h3.8M317.55 293v3.8M309.67 304.43h3.8M311.57 302.53v3.8M269.11 329.12h3.8M271.01 327.22v3.8M302.91 294.91h3.8M304.81 293.01v3.8M284.51 284.89h3.8M286.41 282.99v3.8M290.11 271.63h3.8M292.01 269.73v3.8M301.48 262.57h3.8M303.38 260.67v3.8" stroke="#2ca02c" stroke-width="1.0" fill="none" opacity="0.62"/>
<path d="M317.55 286.19L318.49 290.04L345.93 269.37L388.33 275.84L338.78 296.85L319.82 293.81L347.79 354.79L317.55 312.33L312.83 301.81L274.98 325.95L314.72 292.65L263.05 279.56L282.36 263.94L299.91 255.37Z" stroke="#d62728" stroke-width="1.05" fill="none" stroke-linejoin="round" opacity="0.62"/>
<path d="M315.65 286.19h3.8M317.55 284.29v3.8M316.59 290.04h3.8M318.49 288.14v3.8M344.03 269.37h3.8M345.93 267.47v3.8M386.43 275.84h3.8M388.33 273.94v3.8M336.88 296.85h3.8M338.78 294.95v3.8M317.92 293.81h3.8M319.82 291.91v3.8M345.89 354.79h3.8M347.79 352.89v3.8M315.65 312.33h3.8M317.55 310.43v3.8M310.93 301.81h3.8M312.83 299.91v3.8M273.08 325.95h3.8M274.98 324.05v3.8M312.82 292.65h3.8M314.72 290.75v3.8M261.15 279.56h3.8M263.05 277.66v3.8M280.46 263.94h3.8M282.36 262.04v3.8M298.01 255.37h3.8M299.91 253.47v3.8" stroke="#d62728" stroke-width="1.0" fill="none" opacity="0.62"/>
<path d="M317.55 269.49L318.81 289.38L363.53 255.34L352.23 284.08L352.23 299.92L323.23 296.53L347.16 353.49L317.55 302.16L316.61 293.96L277.82 323.69L310.47 293.62L286.41 284.89L280.09 262.12L296.76 248.83Z" stroke="#9467bd" stroke-width="1.05" fill="none" stroke-linejoin="round" opacity="0.62"/>
<path d="M315.65 269.49h3.8M317.55 267.59v3.8M316.91 289.38h3.8M318.81 287.48v3.8M361.63 255.34h3.8M363.53 253.44v3.8M350.33 284.08h3.8M352.23 282.18v3.8M350.33 299.92h3.8M352.23 298.02v3.8M321.33 296.53h3.8M323.23 294.63v3.8M345.26 353.49h3.8M347.16 351.59v3.8M315.65 302.16h3.8M317.55 300.26v3.8M314.71 293.96h3.8M316.61 292.06v3.8M275.92 323.69h3.8M277.82 321.79v3.8M308.57 293.62h3.8M310.47 291.72v3.8M284.51 284.89h3.8M286.41 282.99v3.8M278.19 262.12h3.8M280.09 260.22v3.8M294.86 248.83h3.8M296.76 246.93v3.8" stroke="#9467bd" stroke-width="1.0" fill="none" opacity="0.62"/>
<circle cx="317.55" cy="292" r="72.6" stroke="#1a1a1a" stroke-width="0.8" fill="none"/>
<text x="317.55" y="213.46" font-size="9.9" text-anchor="middle" fill="#000" class="k" textLength="12.28" lengthAdjust="spacingAndGlyphs">A1</text>
<text x="353.02" y="221.55" font-size="9.9" text-anchor="middle" fill="#000" class="k" textLength="12.28" lengthAdjust="spacingAndGlyphs">A2</text>
<text x="381.46" y="244.24" font-size="9.9" text-anchor="middle" fill="#000" class="k" textLength="12.28" lengthAdjust="spacingAndGlyphs">A3</text>
<text x="397.25" y="277.01" font-size="9.9" text-anchor="middle" fill="#000" class="k" textLength="12.3" lengthAdjust="spacingAndGlyphs">B1</text>
<text x="397.25" y="313.4" font-size="9.9" text-anchor="middle" fill="#000" class="k" textLength="12.3" lengthAdjust="spacingAndGlyphs">B2</text>
<text x="381.46" y="346.18" font-size="9.9" text-anchor="middle" fill="#000" class="k" textLength="12.3" lengthAdjust="spacingAndGlyphs">B3</text>
<text x="353.02" y="368.86" font-size="9.9" text-anchor="middle" fill="#000" class="k" textLength="12.3" lengthAdjust="spacingAndGlyphs">B4</text>
<text x="317.55" y="376.96" font-size="9.9" text-anchor="middle" fill="#000" class="k" textLength="12.41" lengthAdjust="spacingAndGlyphs">C1</text>
<text x="282.08" y="368.86" font-size="9.9" text-anchor="middle" fill="#000" class="k" textLength="12.41" lengthAdjust="spacingAndGlyphs">C2</text>
<text x="253.64" y="346.18" font-size="9.9" text-anchor="middle" fill="#000" class="k" textLength="13.08" lengthAdjust="spacingAndGlyphs">D1</text>
<text x="237.85" y="313.4" font-size="9.9" text-anchor="middle" fill="#000" class="k" textLength="13.08" lengthAdjust="spacingAndGlyphs">D2</text>
<text x="237.85" y="277.01" font-size="9.9" text-anchor="middle" fill="#000" class="k" textLength="11.79" lengthAdjust="spacingAndGlyphs">E1</text>
<text x="253.64" y="244.24" font-size="9.9" text-anchor="middle" fill="#000" class="k" textLength="11.79" lengthAdjust="spacingAndGlyphs">E2</text>
<text x="282.08" y="221.55" font-size="9.9" text-anchor="middle" fill="#000" class="k" textLength="11.79" lengthAdjust="spacingAndGlyphs">E3</text>
<text x="317.25" y="201.7" font-size="9.9" text-anchor="middle" fill="#000" class="k" textLength="35.79" lengthAdjust="spacingAndGlyphs">Group 5</text>
<rect x="404.4" y="224.4" width="46.2" height="70.2" rx="1.5" fill="#fff" fill-opacity="0.8" stroke="#d0d0d0" stroke-width="0.8"/>
<path d="M407.8 231.5h19.2M417.4 229.3v4.4" stroke="#1f77b4" stroke-width="1" fill="none" opacity="0.75"/>
<text x="433.9" y="235.31" font-size="9.9" fill="#000" class="k" textLength="12.84" lengthAdjust="spacingAndGlyphs">BR</text>
<path d="M407.8 245.5h19.2M417.4 243.3v4.4" stroke="#ff7f0e" stroke-width="1" fill="none" opacity="0.75"/>
<text x="433.9" y="248.81" font-size="9.9" fill="#000" class="k" textLength="13.81" lengthAdjust="spacingAndGlyphs">CO</text>
<path d="M407.8 258.5h19.2M417.4 256.3v4.4" stroke="#2ca02c" stroke-width="1" fill="none" opacity="0.75"/>
<text x="433.9" y="262.31" font-size="9.9" fill="#000" class="k" textLength="12.96" lengthAdjust="spacingAndGlyphs">CR</text>
<path d="M407.8 272.5h19.2M417.4 270.3v4.4" stroke="#d62728" stroke-width="1" fill="none" opacity="0.75"/>
<text x="433.9" y="275.81" font-size="9.9" fill="#000" class="k" textLength="13.3" lengthAdjust="spacingAndGlyphs">CU</text>
<path d="M407.8 285.5h19.2M417.4 283.3v4.4" stroke="#9467bd" stroke-width="1" fill="none" opacity="0.75"/>
<text x="433.9" y="289.31" font-size="9.9" fill="#000" class="k" textLength="11.08" lengthAdjust="spacingAndGlyphs">PY</text>
</g>
<g>
<circle cx="546.3" cy="292" r="18.15" stroke="#b0b0b0" stroke-width="0.65" fill="none"/>
<circle cx="546.3" cy="292" r="36.3" stroke="#b0b0b0" stroke-width="0.65" fill="none"/>
<circle cx="546.3" cy="292" r="54.45" stroke="#b0b0b0" stroke-width="0.65" fill="none"/>
<path d="M546.5 292L546.5 219.4M546.3 292L577.8 226.59M546.3 292L603.06 246.73M546.3 292L617.08 275.84M546.3 292L617.08 308.16M546.3 292L603.06 337.27M546.3 292L577.8 357.41M546.5 292L546.5 364.6M546.3 292L514.8 357.41M546.3 292L489.54 337.27M546.3 292L475.52 308.16M546.3 292L475.52 275.84M546.3 292L489.54 246.73M546.3 292L514.8 226.59" stroke="#b0b0b0" stroke-width="0.65" fill="none"/>
<text x="546.3" y="290.3" font-size="7.1" fill="#5e5e5e" textLength="10.81" lengthAdjust="spacingAndGlyphs">0.0</text>
<text x="546.3" y="272.15" font-size="7.1" fill="#5e5e5e" textLength="15.14" lengthAdjust="spacingAndGlyphs">0.25</text>
<text x="546.3" y="254" font-size="7.1" fill="#5e5e5e" textLength="10.81" lengthAdjust="spacingAndGlyphs">0.5</text>
<text x="546.3" y="235.85" font-size="7.1" fill="#5e5e5e" textLength="15.14" lengthAdjust="spacingAndGlyphs">0.75</text>
<text x="546.3" y="217.7" font-size="7.1" fill="#5e5e5e" textLength="10.81" lengthAdjust="spacingAndGlyphs">1.0</text>
<path d="M546.3 271.67L548.82 286.77L569 273.89L583.81 283.44L587.35 301.37L557.65 301.05L555.75 311.62L546.3 294.9L546.3 292L506.57 323.69L546.3 292L498.88 281.18L502.03 256.69L521.73 240.98Z" stroke="#1f77b4" stroke-width="1.05" fill="none" stroke-linejoin="round" opacity="0.62"/>
<path d="M544.4 271.67h3.8M546.3 269.77v3.8M546.92 286.77h3.8M548.82 284.87v3.8M567.1 273.89h3.8M569 271.99v3.8M581.91 283.44h3.8M583.81 281.54v3.8M585.45 301.37h3.8M587.35 299.47v3.8M555.75 301.05h3.8M557.65 299.15v3.8M553.85 311.62h3.8M555.75 309.72v3.8M544.4 294.9h3.8M546.3 293v3.8M544.4 292h3.8M546.3 290.1v3.8M504.67 323.69h3.8M506.57 321.79v3.8M544.4 292h3.8M546.3 290.1v3.8M496.98 281.18h3.8M498.88 279.28v3.8M500.13 256.69h3.8M502.03 254.79v3.8M519.83 240.98h3.8M521.73 239.08v3.8" stroke="#1f77b4" stroke-width="1.0" fill="none" opacity="0.62"/>
<path d="M546.3 289.1L548.82 286.77L583.76 262.12L583.11 283.6L587.35 301.37L557.65 301.05L562.99 326.67L546.3 294.9L546.3 292L512.24 319.16L532.85 295.07L514.45 284.73L514.51 266.65L524.25 246.21Z" stroke="#ff7f0e" stroke-width="1.05" fill="none" stroke-linejoin="round" opacity="0.62"/>
<path d="M544.4 289.1h3.8M546.3 287.2v3.8M546.92 286.77h3.8M548.82 284.87v3.8M581.86 262.12h3.8M583.76 260.22v3.8M581.21 283.6h3.8M583.11 281.7v3.8M585.45 301.37h3.8M587.35 299.47v3.8M555.75 301.05h3.8M557.65 299.15v3.8M561.09 326.67h3.8M562.99 324.77v3.8M544.4 294.9h3.8M546.3 293v3.8M544.4 292h3.8M546.3 290.1v3.8M510.34 319.16h3.8M512.24 317.26v3.8M530.95 295.07h3.8M532.85 293.17v3.8M512.55 284.73h3.8M514.45 282.83v3.8M512.61 266.65h3.8M514.51 264.75v3.8M522.35 246.21h3.8M524.25 244.31v3.8" stroke="#ff7f0e" stroke-width="1.0" fill="none" opacity="0.62"/>
<path d="M546.3 277.48L547.56 289.38L572.98 270.73L589.48 282.15L600.8 304.44L554.81 298.79L576.54 354.79L546.3 310.15L546.3 292L512.24 319.16L546.3 292L543.47 291.35L514.51 266.65L521.73 240.98Z" stroke="#2ca02c" stroke-width="1.05" fill="none" stroke-linejoin="round" opacity="0.62"/>
<path d="M544.4 277.48h3.8M546.3 275.58v3.8M545.66 289.38h3.8M547.56 287.48v3.8M571.08 270.73h3.8M572.98 268.83v3.8M587.58 282.15h3.8M589.48 280.25v3.8M598.9 304.44h3.8M600.8 302.54v3.8M552.91 298.79h3.8M554.81 296.89v3.8M574.64 354.79h3.8M576.54 352.89v3.8M544.4 310.15h3.8M546.3 308.25v3.8M544.4 292h3.8M546.3 290.1v3.8M510.34 319.16h3.8M512.24 317.26v3.8M544.4 292h3.8M546.3 290.1v3.8M541.57 291.35h3.8M543.47 289.45v3.8M512.61 266.65h3.8M514.51 264.75v3.8M519.83 240.98h3.8M521.73 239.08v3.8" stroke="#2ca02c" stroke-width="1.0" fill="none" opacity="0.62"/>
<path d="M546.3 286.92L547.56 289.38L562.19 279.33L595.14 280.85L590.89 302.18L564.46 306.48L567.4 335.82L546.3 335.56L546.3 292L498.62 330.02L520.11 297.98L506.66 282.95L514.51 266.65L525.2 248.18Z" stroke="#d62728" stroke-width="1.05" fill="none" stroke-linejoin="round" opacity="0.62"/>
<path d="M544.4 286.92h3.8M546.3 285.02v3.8M545.66 289.38h3.8M547.56 287.48v3.8M560.29 279.33h3.8M562.19 277.43v3.8M593.24 280.85h3.8M595.14 278.95v3.8M588.99 302.18h3.8M590.89 300.28v3.8M562.56 306.48h3.8M564.46 304.58v3.8M565.5 335.82h3.8M567.4 333.92v3.8M544.4 335.56h3.8M546.3 333.66v3.8M544.4 292h3.8M546.3 290.1v3.8M496.72 330.02h3.8M498.62 328.12v3.8M518.21 297.98h3.8M520.11 296.08v3.8M504.76 282.95h3.8M506.66 281.05v3.8M512.61 266.65h3.8M514.51 264.75v3.8M523.3 248.18h3.8M525.2 246.28v3.8" stroke="#d62728" stroke-width="1.0" fill="none" opacity="0.62"/>
<path d="M546.3 249.89L551.97 280.23L569 273.89L580.98 284.08L567.53 296.85L558.22 301.51L563.94 328.63L546.3 317.41L546.3 292L495.22 332.74L546.3 292L504.54 282.47L520.76 271.63L525.2 248.18Z" stroke="#9467bd" stroke-width="1.05" fill="none" stroke-linejoin="round" opacity="0.62"/>
<path d="M544.4 249.89h3.8M546.3 247.99v3.8M550.07 280.23h3.8M551.97 278.33v3.8M567.1 273.89h3.8M569 271.99v3.8M579.08 284.08h3.8M580.98 282.18v3.8M565.63 296.85h3.8M567.53 294.95v3.8M556.32 301.51h3.8M558.22 299.61v3.8M562.04 328.63h3.8M563.94 326.73v3.8M544.4 317.41h3.8M546.3 315.51v3.8M544.4 292h3.8M546.3 290.1v3.8M493.32 332.74h3.8M495.22 330.84v3.8M544.4 292h3.8M546.3 290.1v3.8M502.64 282.47h3.8M504.54 280.57v3.8M518.86 271.63h3.8M520.76 269.73v3.8M523.3 248.18h3.8M525.2 246.28v3.8" stroke="#9467bd" stroke-width="1.0" fill="none" opacity="0.62"/>
<circle cx="546.3" cy="292" r="72.6" stroke="#1a1a1a" stroke-width="0.8" fill="none"/>
<text x="546.3" y="213.46" font-size="9.9" text-anchor="middle" fill="#000" class="k" textLength="12.28" lengthAdjust="spacingAndGlyphs">A1</text>
<text x="581.77" y="221.55" font-size="9.9" text-anchor="middle" fill="#000" class="k" textLength="12.28" lengthAdjust="spacingAndGlyphs">A2</text>
<text x="610.21" y="244.24" font-size="9.9" text-anchor="middle" fill="#000" class="k" textLength="12.28" lengthAdjust="spacingAndGlyphs">A3</text>
<text x="626" y="277.01" font-size="9.9" text-anchor="middle" fill="#000" class="k" textLength="12.3" lengthAdjust="spacingAndGlyphs">B1</text>
<text x="626" y="313.4" font-size="9.9" text-anchor="middle" fill="#000" class="k" textLength="12.3" lengthAdjust="spacingAndGlyphs">B2</text>
<text x="610.21" y="346.18" font-size="9.9" text-anchor="middle" fill="#000" class="k" textLength="12.3" lengthAdjust="spacingAndGlyphs">B3</text>
<text x="581.77" y="368.86" font-size="9.9" text-anchor="middle" fill="#000" class="k" textLength="12.3" lengthAdjust="spacingAndGlyphs">B4</text>
<text x="546.3" y="376.96" font-size="9.9" text-anchor="middle" fill="#000" class="k" textLength="12.41" lengthAdjust="spacingAndGlyphs">C1</text>
<text x="510.83" y="368.86" font-size="9.9" text-anchor="middle" fill="#000" class="k" textLength="12.41" lengthAdjust="spacingAndGlyphs">C2</text>
<text x="482.39" y="346.18" font-size="9.9" text-anchor="middle" fill="#000" class="k" textLength="13.08" lengthAdjust="spacingAndGlyphs">D1</text>
<text x="466.6" y="313.4" font-size="9.9" text-anchor="middle" fill="#000" class="k" textLength="13.08" lengthAdjust="spacingAndGlyphs">D2</text>
<text x="466.6" y="277.01" font-size="9.9" text-anchor="middle" fill="#000" class="k" textLength="11.79" lengthAdjust="spacingAndGlyphs">E1</text>
<text x="482.39" y="244.24" font-size="9.9" text-anchor="middle" fill="#000" class="k" textLength="11.79" lengthAdjust="spacingAndGlyphs">E2</text>
<text x="510.83" y="221.55" font-size="9.9" text-anchor="middle" fill="#000" class="k" textLength="11.79" lengthAdjust="spacingAndGlyphs">E3</text>
<text x="546" y="201.7" font-size="9.9" text-anchor="middle" fill="#000" class="k" textLength="35.79" lengthAdjust="spacingAndGlyphs">Group 6</text>
<rect x="634.5" y="224.4" width="45.5" height="70.2" rx="1.5" fill="#fff" fill-opacity="0.8" stroke="#d0d0d0" stroke-width="0.8"/>
<path d="M637.9 231.5h19.2M647.5 229.3v4.4" stroke="#1f77b4" stroke-width="1" fill="none" opacity="0.75"/>
<text x="664" y="235.31" font-size="9.9" fill="#000" class="k" textLength="12.27" lengthAdjust="spacingAndGlyphs">SV</text>
<path d="M637.9 245.5h19.2M647.5 243.3v4.4" stroke="#ff7f0e" stroke-width="1" fill="none" opacity="0.75"/>
<text x="664" y="248.81" font-size="9.9" fill="#000" class="k" textLength="11.38" lengthAdjust="spacingAndGlyphs">PA</text>
<path d="M637.9 258.5h19.2M647.5 256.3v4.4" stroke="#2ca02c" stroke-width="1" fill="none" opacity="0.75"/>
<text x="664" y="262.31" font-size="9.9" fill="#000" class="k" textLength="12.37" lengthAdjust="spacingAndGlyphs">SR</text>
<path d="M637.9 272.5h19.2M647.5 270.3v4.4" stroke="#d62728" stroke-width="1" fill="none" opacity="0.75"/>
<text x="664" y="275.81" font-size="9.9" fill="#000" class="k" textLength="12.12" lengthAdjust="spacingAndGlyphs">BS</text>
<path d="M637.9 285.5h19.2M647.5 283.3v4.4" stroke="#9467bd" stroke-width="1" fill="none" opacity="0.75"/>
<text x="664" y="289.31" font-size="9.9" fill="#000" class="k" textLength="12.24" lengthAdjust="spacingAndGlyphs">VE</text>
</g>
</svg></body></html>
